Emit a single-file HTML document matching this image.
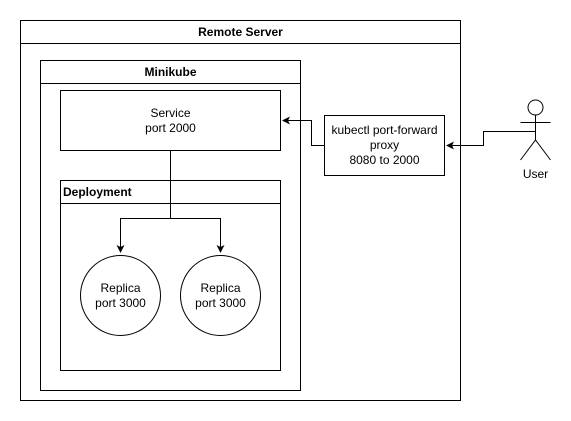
<!DOCTYPE html>
<html><head><style>body{margin:0;background:#fff}svg{display:block}text{font-family:"Liberation Sans",Arial,sans-serif;font-size:12px;fill:#000}</style></head>
<body><svg width="571" height="421" viewBox="0 0 571 421">
<defs><marker id="a" markerWidth="8" markerHeight="8" refX="7" refY="4" orient="auto" markerUnits="userSpaceOnUse"><path d="M0,0 L8,4 L0,8 L2,4 Z" fill="#000"/></marker></defs>
<g fill="none" stroke="#000" stroke-width="1">
<rect x="20.5" y="20.5" width="440" height="380" fill="#fff"/>
<line x1="20.5" y1="43.5" x2="460.5" y2="43.5"/>
<rect x="40.5" y="60.5" width="260" height="330"/>
<line x1="40.5" y1="83.5" x2="300.5" y2="83.5"/>
<rect x="60.5" y="90.5" width="220" height="60"/>
<rect x="60.5" y="180.5" width="220" height="190"/>
<line x1="60.5" y1="203.5" x2="280.5" y2="203.5"/>
<circle cx="120.5" cy="295.5" r="40"/>
<circle cx="220.5" cy="295.5" r="40"/>
<polyline points="170.5,150.5 170.5,218.5 120.5,218.5 120.5,252" marker-end="url(#a)"/>
<polyline points="170.5,218.5 220.5,218.5 220.5,252" marker-end="url(#a)"/>
<rect x="324.5" y="115.5" width="120" height="60"/>
<polyline points="324.5,145.5 311.5,145.5 311.5,120.5 283,120.5" marker-end="url(#a)"/>
<polyline points="535.5,131.5 483.5,131.5 483.5,145.5 447,145.5" marker-end="url(#a)"/>
<circle cx="535.5" cy="107.5" r="7.5"/>
<line x1="535.5" y1="115" x2="535.5" y2="140"/>
<line x1="520.5" y1="122.5" x2="550.5" y2="122.5"/>
<polyline points="520.5,160 535.5,140 550.5,160"/>
</g>
<g text-anchor="middle">
<text x="240.5" y="36" font-weight="bold">Remote Server</text>
<text x="170.5" y="76" font-weight="bold">Minikube</text>
<text x="170.5" y="117">Service</text>
<text x="170.5" y="132">port 2000</text>
<text x="120.5" y="292">Replica</text>
<text x="120.5" y="307">port 3000</text>
<text x="220.5" y="292">Replica</text>
<text x="220.5" y="307">port 3000</text>
<text x="384.5" y="134">kubectl port-forward</text>
<text x="384.5" y="149">proxy</text>
<text x="384.5" y="164">8080 to 2000</text>
<text x="535.5" y="178">User</text>
</g>
<text x="63" y="196" font-weight="bold">Deployment</text>
</svg></body></html>
